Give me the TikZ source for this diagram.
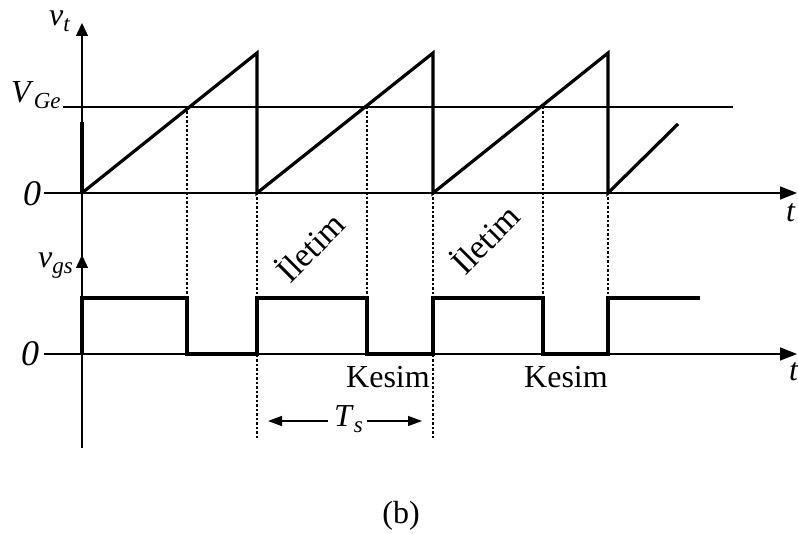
\documentclass[tikz,border=0pt]{standalone}
\usepackage{fontspec}
\setmainfont{Liberation Serif}
\usetikzlibrary{arrows.meta}
\newcommand\mysub[1]{\raisebox{-6pt}{\fontsize{23}{25}\selectfont\itshape #1}}
\begin{document}
\begin{tikzpicture}[x=1pt,y=-1pt,
  axis/.style={line width=1.5pt},
  thin/.style={line width=1.4pt},
  wave/.style={line width=3.2pt,line join=miter},
  guide/.style={line width=1.3pt,dash pattern=on 2.5pt off 2pt},
  lbl/.style={inner sep=0pt,font=\fontsize{32}{36}\selectfont},
  ahead/.style={-{Triangle[length=17pt,width=13pt]}},
  vhead/.style={-{Triangle[length=13pt,width=12pt]}},
  dimhead/.style={-{Triangle[length=14pt,width=10pt]}}]
\useasboundingbox (0,0) rectangle (798,534);
% key coordinates
\coordinate (ybot) at (82,448);
\coordinate (ytop) at (82,23);
\coordinate (ymid) at (82,255);
\coordinate (t1l) at (44,193);
\coordinate (t1r) at (797,193);
\coordinate (t2l) at (44,354);
\coordinate (t2r) at (797,354);
\coordinate (vgl) at (63,107);
\coordinate (vgr) at (733,107);
% axes
\draw[axis,vhead] (ybot) -- (ytop);
\draw[axis,vhead] (82,300) -- (ymid);
\draw[axis,ahead] (t1l) -- (t1r);
\draw[axis,ahead] (t2l) -- (t2r);
\draw[thin] (vgl) -- (vgr);
% sawtooth
\draw[wave] (82,122) -- (82,193);
\draw[wave] (82,193) -- (257,53) -- (257,193) -- (433,53) -- (433,193) -- (608,53) -- (608,193) -- (678,124);
% square wave
\draw[wave] (82,354) -- (82,298) -- (187,298) -- (187,354) -- (257,354) -- (257,298) -- (367,298) -- (367,354)
  -- (433,354) -- (433,298) -- (543,298) -- (543,354) -- (608,354) -- (608,298) -- (700,298);
% dotted guides
\draw[guide] (187,107) -- (187,298);
\draw[guide] (367,107) -- (367,298);
\draw[guide] (543,107) -- (543,298);
\draw[guide] (257,193) -- (257,440);
\draw[guide] (433,193) -- (433,440);
\draw[guide] (608,193) -- (608,298);
% labels
\node[lbl,anchor=base west] (lvt) at (49,26) {\textit{v}\mysub{t}};
\node[lbl,anchor=base west] (lvge) at (11,103) {\textit{V}\mysub{Ge}};
\node[lbl,anchor=base west,font=\fontsize{36}{40}\selectfont] (lz1) at (23,206) {\textit{0}};
\node[lbl,anchor=base west,font=\fontsize{36}{40}\selectfont] (lz2) at (21,366) {\textit{0}};
\node[lbl,anchor=base west] (lvgs) at (38,268) {\textit{v}\mysub{gs}};
\node[lbl,anchor=base west] (lt1) at (786,222) {\textit{t}};
\node[lbl,anchor=base west] (lt2) at (789,381) {\textit{t}};
\node[lbl,anchor=base west] (lk1) at (346,388) {Kesim};
\node[lbl,anchor=base west] (lk2) at (524,388) {Kesim};
\node[lbl,rotate=45,font=\fontsize{34}{38}\selectfont] (li1) at (309,246) {İletim};
\node[lbl,rotate=45,font=\fontsize{34}{38}\selectfont] (li2) at (484,238) {İletim};
\node[lbl,anchor=base west] (lts) at (334,427) {\textit{T}\mysub{s}};
\node[lbl,anchor=base] (lb) at (401,523) {(b)};
% Ts dimension arrows
\coordinate (tsl) at (268,421);
\coordinate (tsr) at (422,421);
\draw[thin,dimhead] (328,421) -- (tsl);
\draw[thin,dimhead] (367,421) -- (tsr);
\end{tikzpicture}
\end{document}
